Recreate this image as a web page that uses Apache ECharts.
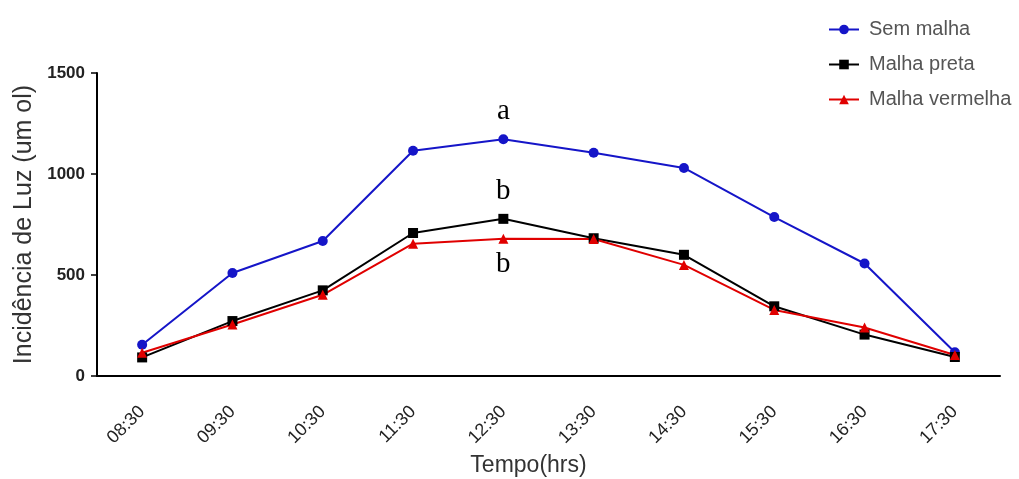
<!DOCTYPE html>
<html>
<head>
<meta charset="utf-8">
<script src="https://cdn.jsdelivr.net/npm/echarts@6/dist/echarts.min.js"></script>
<style>
  html, body { margin: 0; padding: 0; background: #fff; }
  #chart { width: 1019px; height: 479px; }
</style>
</head>
<body>
<div id="chart"></div>
<script>
var horas = ['08:30', '09:30', '10:30', '11:30', '12:30', '13:30', '14:30', '15:30', '16:30', '17:30'];
var semMalha = [155, 510, 668, 1115, 1172, 1105, 1030, 787, 557, 118];
var malhaPreta = [92, 272, 424, 708, 778, 682, 600, 345, 205, 94];
var malhaVermelha = [115, 255, 402, 655, 680, 678, 550, 327, 240, 104];
// letras de significancia no ponto das 12:30
var letras = { 'Sem malha': 'a', 'Malha preta': 'b', 'Malha vermelha': 'b' };
var idxLetra = 4;

var myChart = echarts.init(document.getElementById('chart'));

function comLetra(valores, letra, pos, dist) {
    return valores.map(function (v, i) {
        if (i !== idxLetra) return v;
        return {
            value: v,
            label: {
                show: true,
                position: pos,
                distance: dist,
                formatter: letra,
                fontFamily: 'Liberation Serif',
                fontSize: 29,
                color: '#000'
            }
        };
    });
}

var option = {
    animation: false,
    backgroundColor: '#fff',
    legend: {
        orient: 'vertical',
        left: 823,
        top: 14,
        itemWidth: 30,
        itemHeight: 12,
        itemGap: 14,
        textStyle: { fontFamily: 'Liberation Sans', fontSize: 20, lineHeight: 21, color: '#555', padding: [0, 0, 0, 5] },
        data: ['Sem malha', 'Malha preta', 'Malha vermelha']
    },
    grid: { left: 97, right: 19, top: 73, bottom: 103, outerBoundsMode: 'none' },
    xAxis: {
        type: 'category',
        data: horas,
        boundaryGap: true,
        name: 'Tempo(hrs)',
        nameLocation: 'middle',
        nameGap: 78,
        nameTextStyle: { fontFamily: 'Liberation Sans', fontSize: 23, color: '#333', padding: [0, 40, 0, 0] },
        axisLine: { lineStyle: { color: '#000', width: 2 } },
        axisTick: { alignWithLabel: true, length: 8, lineStyle: { color: '#000', width: 1.5 } },
        axisLabel: { rotate: 45, margin: 33, fontFamily: 'Liberation Sans', fontSize: 18, color: '#222', padding: [0, 0, 0, 0] }
    },
    yAxis: {
        type: 'value',
        min: 0,
        max: 1500,
        interval: 500,
        name: 'Incidência de Luz (um ol)',
        nameLocation: 'middle',
        nameGap: 58,
        nameTextStyle: { fontFamily: 'Liberation Sans', fontSize: 25, color: '#333' },
        axisLine: { show: true, lineStyle: { color: '#000', width: 2 } },
        axisTick: { show: true, length: 6, lineStyle: { color: '#000', width: 1.5 } },
        axisLabel: {
            margin: 12,
            fontFamily: 'Liberation Sans',
            fontSize: 17,
            fontWeight: 'bold',
            color: '#222',
            formatter: function (v) { return String(v); }
        },
        splitLine: { show: false }
    },
    series: [
        {
            name: 'Sem malha',
            type: 'line',
            data: comLetra(semMalha, letras['Sem malha'], 'top', 8),
            symbol: 'circle',
            symbolSize: 10,
            lineStyle: { color: '#1515c8', width: 2 },
            itemStyle: { color: '#1515c8' }
        },
        {
            name: 'Malha preta',
            type: 'line',
            data: comLetra(malhaPreta, letras['Malha preta'], 'top', 8),
            symbol: 'rect',
            symbolSize: 10,
            lineStyle: { color: '#000', width: 2 },
            itemStyle: { color: '#000' }
        },
        {
            name: 'Malha vermelha',
            type: 'line',
            data: comLetra(malhaVermelha, letras['Malha vermelha'], 'bottom', 6),
            symbol: 'triangle',
            symbolSize: 10,
            lineStyle: { color: '#e00000', width: 2 },
            itemStyle: { color: '#e00000' }
        }
    ]
};
myChart.setOption(option);
</script>
</body>
</html>
